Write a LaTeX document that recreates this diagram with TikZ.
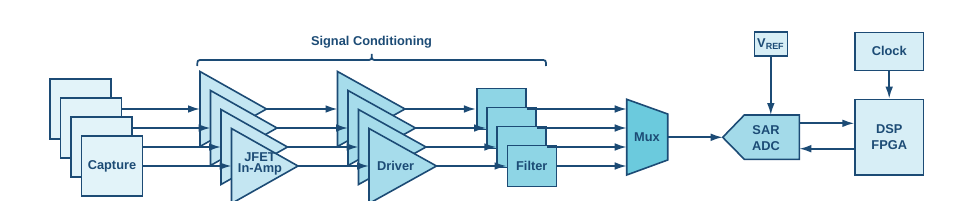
\documentclass[tikz,border=0pt]{standalone}
\usepackage{fontspec}
\setmainfont{Liberation Sans}
\usetikzlibrary{arrows.meta}
\definecolor{ln}{HTML}{1C4B75}
\definecolor{capc}{HTML}{E2F3F9}
\definecolor{jfetc}{HTML}{C4E6F2}
\definecolor{drvc}{HTML}{A6DCEB}
\definecolor{filc}{HTML}{8ED5E5}
\definecolor{muxc}{HTML}{6BCADD}
\definecolor{adcc}{HTML}{A3DAE9}
\definecolor{lightc}{HTML}{D7EEF6}
\pgfdeclarelayer{bg}
\pgfdeclarelayer{fg}
\pgfsetlayers{bg,main,fg}
\begin{document}
\begin{tikzpicture}[x=0.75pt,y=-0.75pt,
  font=\fontsize{9.6}{11}\selectfont\bfseries, text=ln,
  wire/.style={draw=ln,line width=1.3pt},
  arr/.style={wire,-{Latex[length=9pt,width=5.8pt]}},
  shp/.style={draw=ln,line width=1.2pt},
  capbox/.style={shp,fill=capc,minimum width=45.75pt,minimum height=45pt,inner sep=0pt},
  filbox/.style={shp,fill=filc,minimum width=36.75pt,minimum height=30.75pt,inner sep=0pt},
  litebox/.style={shp,fill=lightc,inner sep=0pt},
  lbl/.style={inner sep=0pt,align=center}]
\useasboundingbox (0,0) rectangle (967,200);

% Capture boxes (foreground)
\begin{pgfonlayer}{fg}
  \foreach \i in {0,1,2}{
    \node[capbox] (cap\i) at ({80.5+10.5*\i},{109+19*\i}) {};
  }
  \node[capbox] (cap3) at ({80.5+10.5*3},{109+19*3}) {Capture};
\end{pgfonlayer}

% Shapes on background layer
\begin{pgfonlayer}{bg}
  % JFET in-amps
  \foreach \i in {0,...,3}{
    \pgfmathsetmacro\xl{200+10.5*\i}
    \pgfmathsetmacro\yc{109+19*\i}
    \draw[shp,fill=jfetc] (\xl,\yc-37.5) -- (\xl+66.5,\yc) -- (\xl,\yc+37.5) -- cycle;
    \coordinate (ji\i) at (\xl,\yc);
    \coordinate (jo\i) at (\xl+66.5,\yc);
  }
  % Drivers
  \foreach \i in {0,...,3}{
    \pgfmathsetmacro\xl{337.5+10.5*\i}
    \pgfmathsetmacro\yc{109+19*\i}
    \draw[shp,fill=drvc] (\xl,\yc-37.5) -- (\xl+67.5,\yc) -- (\xl,\yc+37.5) -- cycle;
    \coordinate (di\i) at (\xl,\yc);
    \coordinate (do\i) at (\xl+67.5,\yc);
  }
  % Filters
  \foreach \i in {0,1,2}{
    \node[filbox] (fil\i) at ({501.2+10.2*\i},{109+19*\i}) {};
  }
  \node[filbox] (fil3) at ({501.2+10.2*3},{109+19*3}) {Filter};
  % Mux
  \draw[shp,fill=muxc] (626.7,99.3) -- (667.7,114) -- (667.7,160) -- (626.7,175) -- cycle;
  % SAR ADC
  \draw[shp,fill=adcc] (722.7,137.3) -- (744.3,115) -- (799.3,115) -- (799.3,159.3) -- (744.3,159.3) -- cycle;
\end{pgfonlayer}

\foreach \i in {0,...,3}{
  \coordinate (mi\i) at (626.7,{109+19*\i});
}
\coordinate (mo) at (667.7,137.3);
\coordinate (adcin) at (722.7,137.3);
\coordinate (adctop) at (770.8,115);
\coordinate (adcr1) at (799.3,123.3);
\coordinate (adcr2) at (799.3,148.7);

% Labels
\node[lbl,font=\fontsize{9.6}{8.6}\selectfont\bfseries] (jfetlbl) at (260,164) {JFET\\In-Amp};
\node[lbl] (drvlbl) at (395.7,166) {Driver};
\node[lbl] (mux) at (647,137.3) {Mux};
\node[lbl,font=\fontsize{9.6}{12.2}\selectfont\bfseries] (adc) at (766,138) {SAR\\ADC};

% Right-side boxes
\node[litebox,minimum width=24.75pt,minimum height=18.2pt] (vref) at (770.8,43.9) {V\textsubscript{REF}};
\node[litebox,minimum width=51.2pt,minimum height=28.5pt] (clock) at (889.2,51.3) {Clock};
\node[litebox,minimum width=51.2pt,minimum height=56.8pt,align=center,font=\fontsize{9.6}{12.5}\selectfont\bfseries] (dsp) at (889.2,137.2) {DSP\\FPGA};

% Connectors
\foreach \i in {0,...,3}{
  \draw[arr] (cap\i.east) -- (ji\i);
  \draw[arr] (jo\i) -- (di\i);
  \draw[arr] (do\i) -- (fil\i.west);
  \draw[arr] (fil\i.east) -- (mi\i);
}
\draw[arr] (mo) -- (adcin);
\draw[arr] (vref.south) -- (adctop);
\draw[arr] (clock.south) -- (dsp.north);
\draw[arr] (adcr1) -- (dsp.west |- adcr1);
\draw[arr] (dsp.west |- adcr2) -- (adcr2);

% Brace and title
\draw[wire] (197.3,66) .. controls (197.3,60) .. (203,60) -- (366,60)
  .. controls (371.7,60) .. (371.7,54) .. controls (371.7,60) .. (377.4,60)
  -- (540.3,60) .. controls (546,60) .. (546,66);
\node[lbl] (title) at (371.5,42) {Signal Conditioning};
\end{tikzpicture}
\end{document}
